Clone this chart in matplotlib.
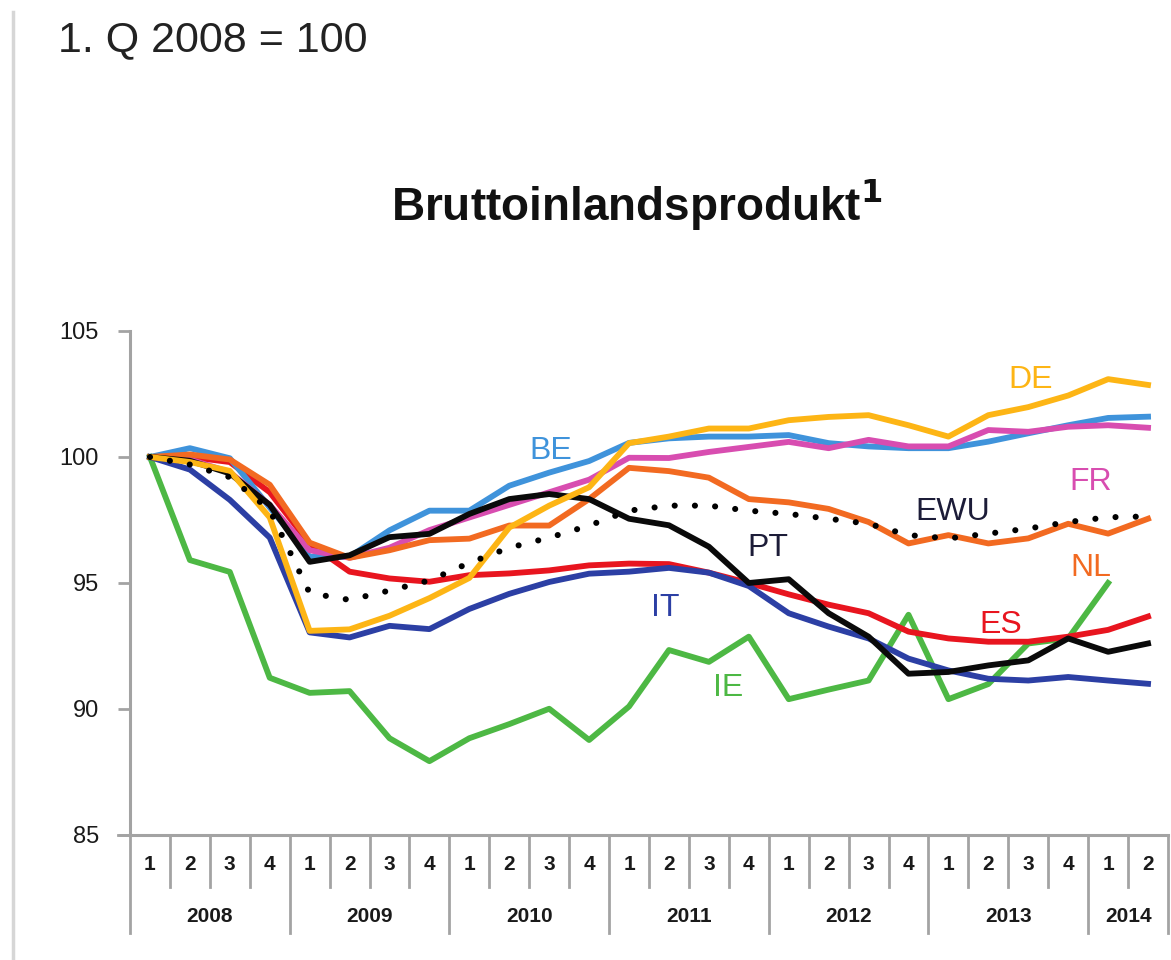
import matplotlib
matplotlib.use("Agg")
import matplotlib.pyplot as plt
from matplotlib.lines import Line2D

plt.rcParams['font.family'] = ['Liberation Sans', 'DejaVu Sans']

# ---- data ----
years = ["2008", "2009", "2010", "2011", "2012", "2013", "2014"]
quarter_labels = ["1", "2", "3", "4"] * 6 + ["1", "2"]

DE = [100, 99.8, 99.45, 97.6, 93.1, 93.16, 93.7, 94.4, 95.2, 97.2, 98.07, 98.8,
      100.55, 100.81, 101.13, 101.13, 101.46, 101.59, 101.66, 101.26, 100.81,
      101.66, 101.98, 102.44, 103.09, 102.86]
BE = [100, 100.35, 99.95, 98.0, 96.04, 96.04, 97.09, 97.87, 97.87, 98.86, 99.38,
      99.84, 100.56, 100.74, 100.81, 100.81, 100.87, 100.55, 100.42, 100.35,
      100.35, 100.61, 100.94, 101.26, 101.55, 101.6]
FR = [100, 99.9, 99.4, 98.1, 96.3, 96.0, 96.4, 97.1, 97.6, 98.1, 98.6, 99.1,
      99.97, 99.96, 100.2, 100.4, 100.6, 100.35, 100.68, 100.42, 100.42, 101.07,
      101.0, 101.2, 101.26, 101.16]
NL = [100, 100.1, 99.9, 98.9, 96.6, 96.0, 96.3, 96.7, 96.76, 97.28, 97.28, 98.33,
      99.57, 99.44, 99.18, 98.33, 98.2, 97.94, 97.42, 96.57, 96.9, 96.57, 96.77,
      97.35, 96.96, 97.55]
EWU = [100, 99.7, 99.2, 97.9, 94.6, 94.33, 94.7, 95.1, 95.8, 96.4, 96.8, 97.28,
       97.87, 98.07, 98.07, 97.87, 97.74, 97.55, 97.35, 96.9, 96.77, 96.96, 97.16,
       97.42, 97.61, 97.64]
PT = [100, 99.85, 99.35, 98.1, 95.84, 96.1, 96.82, 96.95, 97.74, 98.33, 98.53,
      98.33, 97.55, 97.29, 96.44, 95.0, 95.15, 93.8, 92.87, 91.4, 91.47, 91.73,
      91.93, 92.8, 92.27, 92.6]
ES = [100, 100.0, 99.8, 98.6, 96.56, 95.45, 95.18, 95.05, 95.31, 95.38, 95.5,
      95.7, 95.77, 95.75, 95.41, 95.0, 94.55, 94.14, 93.8, 93.07, 92.8, 92.67,
      92.67, 92.87, 93.14, 93.67]
IT = [100, 99.5, 98.3, 96.8, 93.04, 92.84, 93.3, 93.17, 93.97, 94.57, 95.04,
      95.37, 95.45, 95.6, 95.41, 94.88, 93.8, 93.27, 92.8, 92.0, 91.53, 91.2,
      91.13, 91.27, 91.13, 91.0]
IE = [100, 95.91, 95.44, 91.24, 90.64, 90.71, 88.84, 87.93, 88.84, 89.4, 90.01,
      88.77, 90.1, 92.34, 91.87, 92.87, 90.39, 90.77, 91.13, 93.74, 90.39, 90.99,
      92.6, 92.8, 95.0]

yticks = [85, 90, 95, 100, 105]

# ---- styling ----
C = {
    "DE": "#FDB515", "BE": "#3F93DB", "FR": "#D84DB0", "NL": "#F26A21",
    "EWU": "#000000", "PT": "#0A0A0A", "ES": "#E8151F", "IT": "#2C3FA4",
    "IE": "#4DB844",
}
GRAY = "#A3A3A3"

fig = plt.figure(figsize=(11.71, 9.6), dpi=100)
ax = fig.add_axes([130 / 1171, 125 / 960, 1038 / 1171, 504 / 960])

n = len(quarter_labels)
lw = 4.2

def xs(vals):
    return list(range(len(vals)))

ax.plot(xs(IE), IE, color=C["IE"], lw=lw, zorder=2)
ax.plot(xs(ES), ES, color=C["ES"], lw=lw, zorder=3)
ax.plot(xs(IT), IT, color=C["IT"], lw=lw, zorder=3)
ax.plot(xs(BE), BE, color=C["BE"], lw=lw, zorder=3)
ax.plot(xs(FR), FR, color=C["FR"], lw=lw, zorder=3)
ax.plot(xs(NL), NL, color=C["NL"], lw=lw, zorder=4)
ax.plot(xs(PT), PT, color=C["PT"], lw=lw, zorder=4)
ax.plot(xs(DE), DE, color=C["DE"], lw=lw, zorder=5)
ax.plot(xs(EWU), EWU, color=C["EWU"], lw=4.4, linestyle=(0, (0.01, 3.3)),
        dash_capstyle="round", zorder=6)

# series labels
lab_kw = dict(fontsize=23, ha="center", va="center", zorder=7)
ax.text(22.06, 103.06, "DE", color=C["DE"], **lab_kw)
ax.text(10.03, 100.25, "BE", color=C["BE"], **lab_kw)
ax.text(23.56, 99.0, "FR", color=C["FR"], **lab_kw)
ax.text(20.1, 97.8, "EWU", color="#1C1C38", **lab_kw)
ax.text(15.49, 96.4, "PT", color="#1C1C38", **lab_kw)
ax.text(23.56, 95.6, "NL", color=C["NL"], **lab_kw)
ax.text(12.9, 94.0, "IT", color=C["IT"], **lab_kw)
ax.text(21.3, 93.33, "ES", color=C["ES"], **lab_kw)
ax.text(14.49, 90.83, "IE", color=C["IE"], **lab_kw)

# axes
ax.set_xlim(-0.5, n - 0.5)
ax.set_ylim(85, 105)
for s in ["top", "right"]:
    ax.spines[s].set_visible(False)
for s in ["left", "bottom"]:
    ax.spines[s].set_color(GRAY)
    ax.spines[s].set_linewidth(2.2)
ax.set_yticks(yticks)
ax.set_yticklabels([str(v) for v in yticks])
ax.tick_params(axis="y", direction="out", length=8.5, width=2.0, color=GRAY,
               pad=14, labelsize=17, labelcolor="#1a1a1a")
ax.set_xticks([])

# category axis below
trans = ax.get_xaxis_transform()
short_len = 52 / 504
long_len = 98 / 504
for b in range(n + 1):
    xb = b - 0.5
    is_year = (b % 4 == 0) or (b == n)
    L = long_len if is_year else short_len
    ax.add_line(Line2D([xb, xb], [0, -L], transform=trans, color=GRAY,
                       lw=2.0, clip_on=False))
ax.add_line(Line2D([-0.5 - 12 / 39.9, -0.5], [0, 0], transform=trans, color=GRAY,
                   lw=2.0, clip_on=False))
for i, q in enumerate(quarter_labels):
    ax.text(i, -30 / 504, q, transform=trans, ha="center", va="center",
            fontsize=15, fontweight="bold", color="#1a1a1a")
for j, y in enumerate(years):
    start = j * 4
    end = min(start + 4, n)
    ax.text((start + end - 1) / 2, -82 / 504, y, transform=trans, ha="center",
            va="center", fontsize=15, fontweight="bold", color="#1a1a1a")

# titles
fig.text(58 / 1171, 1 - 40 / 960, "1. Q 2008 = 100", fontsize=31, ha="left",
         va="center", color="#222222")
fig.text(637 / 1171, 1 - 205 / 960, "Bruttoinlandsprodukt$^{\\mathbf{1}}$",
         fontsize=33, fontweight="bold", ha="center", va="center", color="#111111")

# left border line
fig.add_artist(Line2D([13 / 1171, 13 / 1171], [0, 1 - 12 / 960],
                      transform=fig.transFigure, color="#D6D6D6", lw=2.5))

fig.savefig("out.png", dpi=100)
